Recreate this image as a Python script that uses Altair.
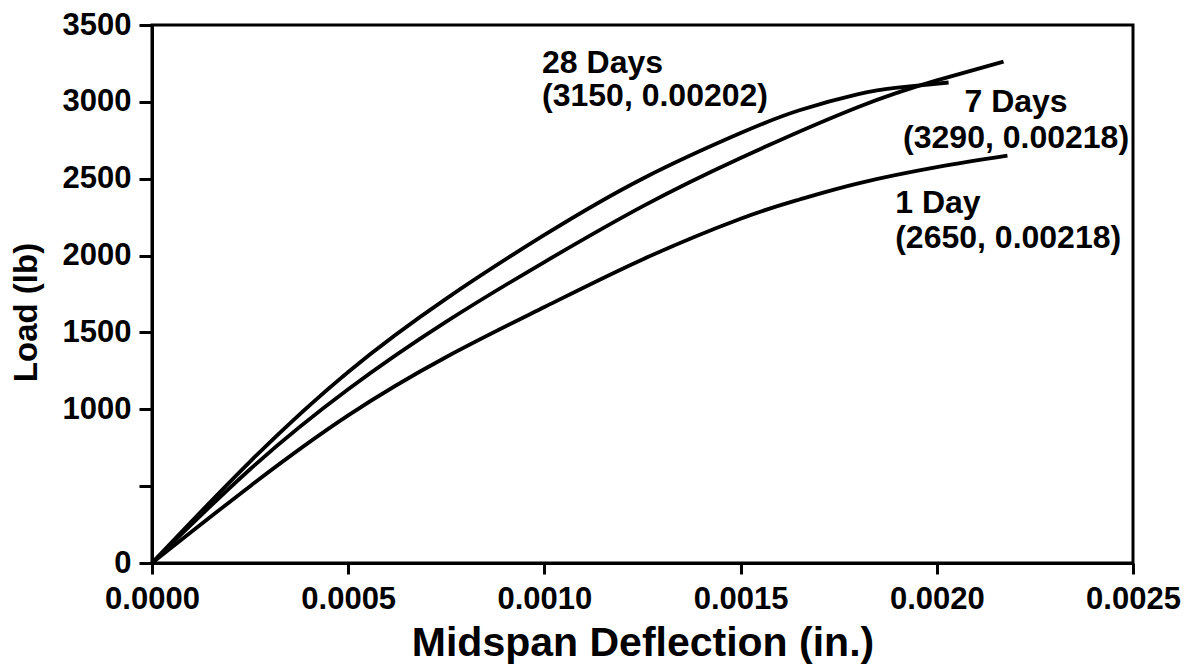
import altair as alt
import pandas as pd

# Curves: midspan deflection (in.) vs load (lb)
x_28 = [0.0, 0.00025, 0.0005, 0.00075, 0.001, 0.00125, 0.0015, 0.00165, 0.0018, 0.0019, 0.00203]
y_28 = [0, 660, 1243, 1720, 2134, 2500, 2797, 2945, 3050, 3092, 3126]

x_7 = [0.0, 0.00025, 0.0005, 0.00075, 0.001, 0.00125, 0.0015, 0.0018, 0.002, 0.00217]
y_7 = [0, 610, 1130, 1570, 1958, 2320, 2635, 2967, 3140, 3262]

x_1 = [0.0, 0.00025, 0.0005, 0.00075, 0.001, 0.00125, 0.0015, 0.00165, 0.0018, 0.002, 0.00218]
y_1 = [0, 500, 960, 1340, 1665, 1975, 2240, 2365, 2470, 2575, 2650]

series_names = ["28 Days", "7 Days", "1 Day"]

# Annotation text (data coordinates of the text anchors)
ann_text = ["28 Days", "(3150, 0.00202)", "7 Days", "(3290, 0.00218)", "1 Day", "(2650, 0.00218)"]
ann_x = [0.000994, 0.000994, 0.002202, 0.002202, 0.001894, 0.001894]
ann_y = [3188, 2973, 2934, 2700, 2277, 2049]
ann_align = ["left", "left", "center", "center", "left", "left"]

y_ticks = [0, 500, 1000, 1500, 2000, 2500, 3000, 3500]
x_ticks = [0.0, 0.0005, 0.001, 0.0015, 0.002, 0.0025]

rows = []
for name, xs, ys in zip(series_names, [x_28, x_7, x_1], [y_28, y_7, y_1]):
    for xv, yv in zip(xs, ys):
        rows.append({"series": name, "x": xv, "y": yv})
df = pd.DataFrame(rows)

ann = pd.DataFrame({"text": ann_text, "x": ann_x, "y": ann_y, "align": ann_align})

FONT = "Liberation Sans"

xscale = alt.Scale(domain=[0, 0.0025], nice=False, zero=False)
yscale = alt.Scale(domain=[0, 3500], nice=False)

lines = alt.Chart(df).mark_line(color="black", strokeWidth=3.8, interpolate="natural").encode(
    x=alt.X("x:Q", scale=xscale,
            axis=alt.Axis(title="Midspan Deflection (in.)", values=x_ticks, format=".4f",
                          grid=False, domainColor="black", domainWidth=3,
                          tickColor="black", tickWidth=3, tickSize=11,
                          labelFont=FONT, labelFontSize=31, labelFontWeight="bold",
                          labelColor="black", labelPadding=10, labelFlush=False,
                          titleFont=FONT, titleFontSize=41, titleFontWeight="bold",
                          titleColor="black", titlePadding=9)),
    y=alt.Y("y:Q", scale=yscale,
            axis=alt.Axis(title="Load (lb)", values=y_ticks, format="d",
                          labelExpr="datum.value == 500 ? '' : datum.label",
                          grid=False, domainColor="black", domainWidth=3,
                          tickColor="black", tickWidth=3, tickSize=13,
                          labelFont=FONT, labelFontSize=31, labelFontWeight="bold",
                          labelColor="black", labelPadding=8, labelFlush=False,
                          titleFont=FONT, titleFontSize=33, titleFontWeight="bold",
                          titleColor="black", titlePadding=19, titleY=287)),
    detail="series:N",
)

def ann_layer(align):
    sub = ann[ann["align"] == align]
    return alt.Chart(sub).mark_text(font=FONT, fontSize=32, fontWeight="bold", color="black",
                                    align=align, baseline="alphabetic").encode(
        x=alt.X("x:Q", scale=xscale),
        y=alt.Y("y:Q", scale=yscale),
        text="text:N",
    )

chart = alt.layer(lines, ann_layer("left"), ann_layer("center")).properties(
    width=981, height=538,
    autosize=alt.AutoSizeParams(type="none"),
    padding={"left": 152, "top": 25, "right": 65, "bottom": 107},
    background="white",
).configure_view(stroke="black", strokeWidth=3)

chart.save("out.html", embed_options={"renderer": "svg", "actions": False})
